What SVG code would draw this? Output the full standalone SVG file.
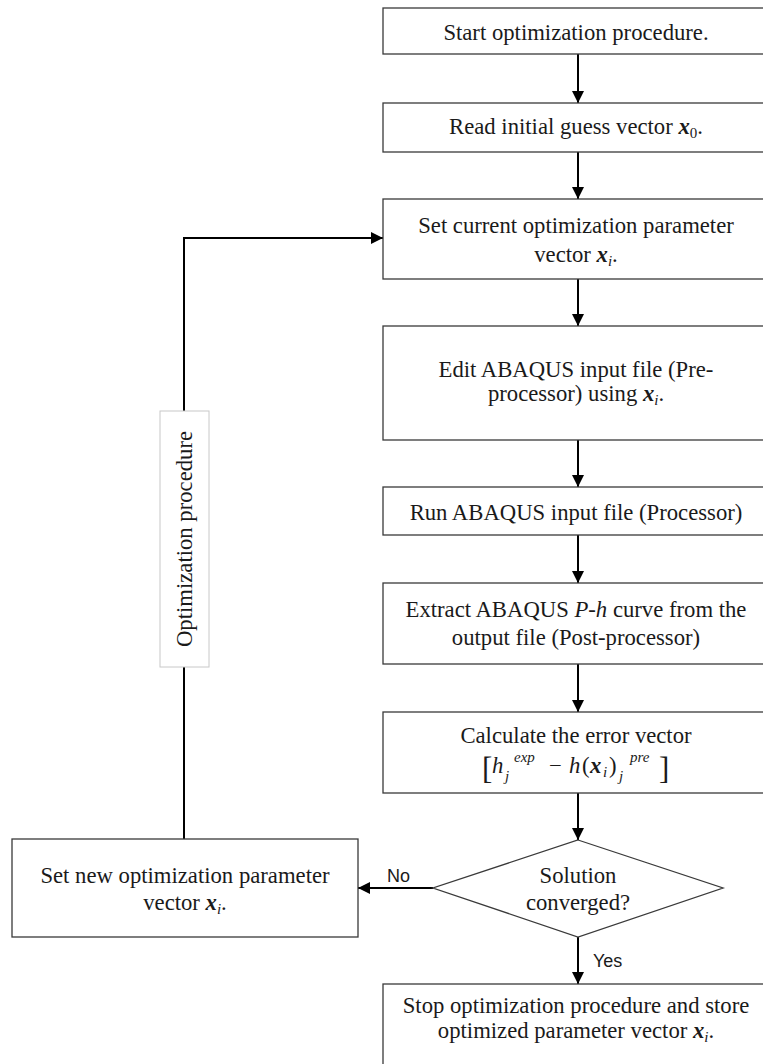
<svg xmlns="http://www.w3.org/2000/svg" width="763" height="1064" viewBox="0 0 763 1064">
<defs>
<marker id="ah" markerUnits="userSpaceOnUse" viewBox="0 0 12 12" markerWidth="12" markerHeight="12" refX="12" refY="6" orient="auto">
<path d="M0,0 L12,6 L0,12 z" fill="#000"/>
</marker>
<style>
.box{fill:#fff;stroke:#3a3a3a;stroke-width:1.3}
.lbl{fill:#fff;stroke:#c8c8c8;stroke-width:1}
.con{fill:none;stroke:#000;stroke-width:2}
.t{font-family:"Liberation Serif","Times New Roman",serif;font-size:22.7px;fill:#1a1a1a;text-anchor:middle}
.s{font-family:"Liberation Sans",Arial,sans-serif;font-size:18px;fill:#1a1a1a}
.bx{font-weight:bold;font-style:italic}
.it{font-style:italic}
.sub{font-size:15px;font-style:italic}
.sub0{font-size:15px}
</style>
</defs>
<rect width="763" height="1064" fill="#fff"/>
<g id="connectors">
<line class="con" x1="578" y1="54" x2="578" y2="103" marker-end="url(#ah)"/>
<line class="con" x1="578" y1="152" x2="578" y2="199" marker-end="url(#ah)"/>
<line class="con" x1="578" y1="279" x2="578" y2="326" marker-end="url(#ah)"/>
<line class="con" x1="578" y1="440" x2="578" y2="487" marker-end="url(#ah)"/>
<line class="con" x1="578" y1="535" x2="578" y2="583" marker-end="url(#ah)"/>
<line class="con" x1="578" y1="664" x2="578" y2="712" marker-end="url(#ah)"/>
<line class="con" x1="578" y1="793" x2="578" y2="840" marker-end="url(#ah)"/>
<line class="con" x1="578" y1="937" x2="578" y2="984" marker-end="url(#ah)"/>
<line class="con" x1="433" y1="888" x2="358" y2="888" marker-end="url(#ah)"/>
<polyline class="con" points="184,839 184,238 383,238" marker-end="url(#ah)"/>
<text class="s" x="387" y="882">No</text>
<text class="s" x="593" y="967">Yes</text>
</g>
<g id="n1">
<rect class="box" x="383" y="8" width="392" height="46"/>
<text class="t" x="576" y="40">Start optimization procedure.</text>
</g>
<g id="n2">
<rect class="box" x="383" y="103" width="392" height="49"/>
<text class="t" x="576" y="134">Read initial guess vector <tspan class="bx">x</tspan><tspan class="sub0" dy="4">0</tspan><tspan dy="-4">.</tspan></text>
</g>
<g id="n3">
<rect class="box" x="383" y="199" width="392" height="80"/>
<text class="t" x="576" y="233">Set current optimization parameter</text>
<text class="t" x="576" y="262">vector <tspan class="bx">x</tspan><tspan class="sub" dy="4">i</tspan><tspan dy="-4">.</tspan></text>
</g>
<g id="n4">
<rect class="box" x="383" y="326" width="392" height="114"/>
<text class="t" x="576" y="377">Edit ABAQUS  input file (Pre-</text>
<text class="t" x="576" y="401">processor) using <tspan class="bx">x</tspan><tspan class="sub" dy="4">i</tspan><tspan dy="-4">.</tspan></text>
</g>
<g id="n5">
<rect class="box" x="383" y="487" width="392" height="48"/>
<text class="t" x="576" y="520">Run ABAQUS  input file (Processor)</text>
</g>
<g id="n6">
<rect class="box" x="383" y="583" width="392" height="81"/>
<text class="t" x="576" y="617">Extract ABAQUS  <tspan class="it">P-h</tspan> curve from the</text>
<text class="t" x="576" y="645">output file (Post-processor)</text>
</g>
<g id="n7">
<rect class="box" x="383" y="712" width="392" height="81"/>
<text class="t" x="576" y="743">Calculate the error vector</text>
<g font-family="'Liberation Serif','Times New Roman',serif" fill="#1a1a1a">
<text x="482" y="779" font-size="31">[</text>
<text x="492" y="773" font-size="22.7" font-style="italic">h</text>
<text x="505" y="781" font-size="15" font-style="italic">j</text>
<text x="514" y="762" font-size="15" font-style="italic">exp</text>
<text x="549" y="773" font-size="22.7">−</text>
<text x="569" y="773" font-size="22.7" font-style="italic">h</text>
<text x="582" y="773" font-size="22.7">(</text>
<text x="590" y="773" font-size="22.7" font-weight="bold" font-style="italic">x</text>
<text x="603" y="777" font-size="15" font-style="italic">i</text>
<text x="609" y="773" font-size="22.7">)</text>
<text x="619" y="781" font-size="15" font-style="italic">j</text>
<text x="630" y="762" font-size="15" font-style="italic">pre</text>
<text x="659" y="779" font-size="31">]</text>
</g>
</g>
<g id="n8">
<polygon class="box" points="578,840 723,888 578,937 433,888"/>
<text class="t" x="578" y="883">Solution</text>
<text class="t" x="578" y="910">converged?</text>
</g>
<g id="n9">
<rect class="box" x="383" y="984" width="392" height="100"/>
<text class="t" x="576" y="1013">Stop optimization procedure and store</text>
<text class="t" x="576" y="1038">optimized parameter vector <tspan class="bx">x</tspan><tspan class="sub" dy="4">i</tspan><tspan dy="-4">.</tspan></text>
</g>
<g id="n10">
<rect class="box" x="12" y="839" width="346" height="98"/>
<text class="t" x="185" y="883">Set new optimization  parameter</text>
<text class="t" x="185" y="910">vector <tspan class="bx">x</tspan><tspan class="sub" dy="4">i</tspan><tspan dy="-4">.</tspan></text>
</g>
<g id="label">
<rect class="lbl" x="160" y="411" width="49" height="256"/>
<text class="t" transform="translate(192,539) rotate(-90)">Optimization procedure</text>
</g>
</svg>
